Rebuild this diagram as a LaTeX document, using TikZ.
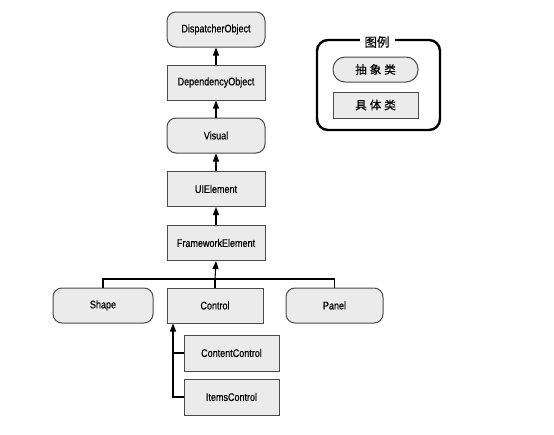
\documentclass[tikz,border=0pt]{standalone}
\usepackage{fontspec}
\setmainfont{Liberation Sans}[FakeStretch=0.82, FakeBold=0.6]
\newfontfamily\cjk{Noto Sans CJK SC}[FakeBold=0.6]
\usetikzlibrary{arrows.meta}
\definecolor{boxgray}{HTML}{EBEBEB}
\definecolor{linegray}{HTML}{4A4A4A}
\tikzset{
	cls/.style={draw=linegray, fill=boxgray, line width=1pt, inner sep=0pt,
		minimum width=98pt, minimum height=35pt, font=\fontsize{11}{12}\selectfont},
	abscls/.style={cls, rounded corners=9pt},
	concls/.style={cls},
	up/.style={-{Triangle[length=8pt, width=6pt]}, line width=1.1pt},
	link/.style={line width=1.1pt}
}
\begin{document}
\begin{tikzpicture}[x=1pt, y=-1pt]
		\useasboundingbox (0, 0) rectangle (554, 434);
		% main chain
		\node[abscls] (dispatcher) at (216, 29.5) {DispatcherObject};
		\node[concls] (dependency) at (216, 82.5) {DependencyObject};
		\node[abscls] (visual) at (216, 135.5) {Visual};
		\node[concls] (uielement) at (216, 189) {UIElement};
		\node[concls] (framework) at (216, 243) {FrameworkElement};
		\foreach \a/\b in {dependency/dispatcher, visual/dependency, uielement/visual, framework/uielement}
			\draw[up] (\a.north) -- (\b.south);
		% children of FrameworkElement
		\node[abscls, minimum width=100pt] (shape) at (103, 305.5) {Shape};
		\node[concls, minimum width=96pt] (control) at (215, 305.5) {Control};
		\node[abscls, minimum width=97pt] (panel) at (334.5, 305.5) {Panel};
		\coordinate (bus) at (215, 279);
		\draw[link] (shape.north) |- (bus) -| (panel.north);
		\draw[link] (control.north) -- (bus);
		\draw[up] (bus) -- (framework.south);
		% children of Control
		\node[concls, minimum width=95pt, minimum height=36pt] (content) at (231.5, 353) {ContentControl};
		\node[concls, minimum width=95pt, minimum height=36pt] (items) at (231.5, 397) {ItemsControl};
		\coordinate (trunk) at (173, 397);
		\draw[link] (content.west) -- (content.west -| trunk);
		\draw[up] (items.west) -- (trunk) -- (trunk |- control.south);
		% legend
		\draw[line width=2.4pt, rounded corners=11pt] (317, 40) rectangle (440, 130);
		\node[fill=white, inner xsep=5pt, inner ysep=1pt, font=\cjk\fontsize{12.5}{13}\selectfont] (legend) at (377, 42) {图例};
		\node[abscls, minimum width=85pt, minimum height=25pt, rounded corners=12pt, font=\cjk\fontsize{11.5}{12}\selectfont] (abstract) at (375.5, 69.5) {抽\hspace{3pt}象\hspace{3pt}类};
		\node[concls, minimum width=85pt, minimum height=26pt, font=\cjk\fontsize{11.5}{12}\selectfont] (concrete) at (375.5, 105) {具\hspace{3pt}体\hspace{3pt}类};
	\end{tikzpicture}
\end{document}
